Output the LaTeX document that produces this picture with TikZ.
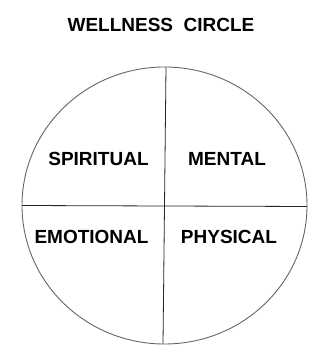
\documentclass[tikz,border=0pt]{standalone}
\usepackage{fontspec}
\setmainfont{Liberation Sans}
\begin{document}
\begin{tikzpicture}[x=1pt,y=1pt,
  lbl/.style={font=\fontsize{19}{19}\selectfont\bfseries, inner sep=0pt, anchor=center},
  ttl/.style={font=\fontsize{19}{19}\selectfont\bfseries, inner sep=0pt, anchor=center},
  rim/.style={draw=black!60, line width=0.9pt},
  divider/.style={draw=black!85, line width=0.8pt}]
\useasboundingbox (0,0) rectangle (322,352);
\fill[white] (0,0) rectangle (322,352);
\draw[rim] (164.5,146.5) ellipse [x radius=142.5, y radius=138.5];
\coordinate (top) at (166,285);
\coordinate (bot) at (163,8);
\coordinate (lft) at (22,146.5);
\coordinate (rgt) at (307,145.5);
\draw[divider] (top) -- (bot);
\draw[divider] (lft) -- (rgt);
\node[ttl] (title) at (161,327) {WELLNESS\ \ CIRCLE};
\node[lbl] (spiritual) at (98.5,193) {SPIRITUAL};
\node[lbl] (mental) at (227,193) {MENTAL};
\node[lbl] (emotional) at (91.5,115) {EMOTIONAL};
\node[lbl] (physical) at (229,115) {PHYSICAL};
\end{tikzpicture}
\end{document}
